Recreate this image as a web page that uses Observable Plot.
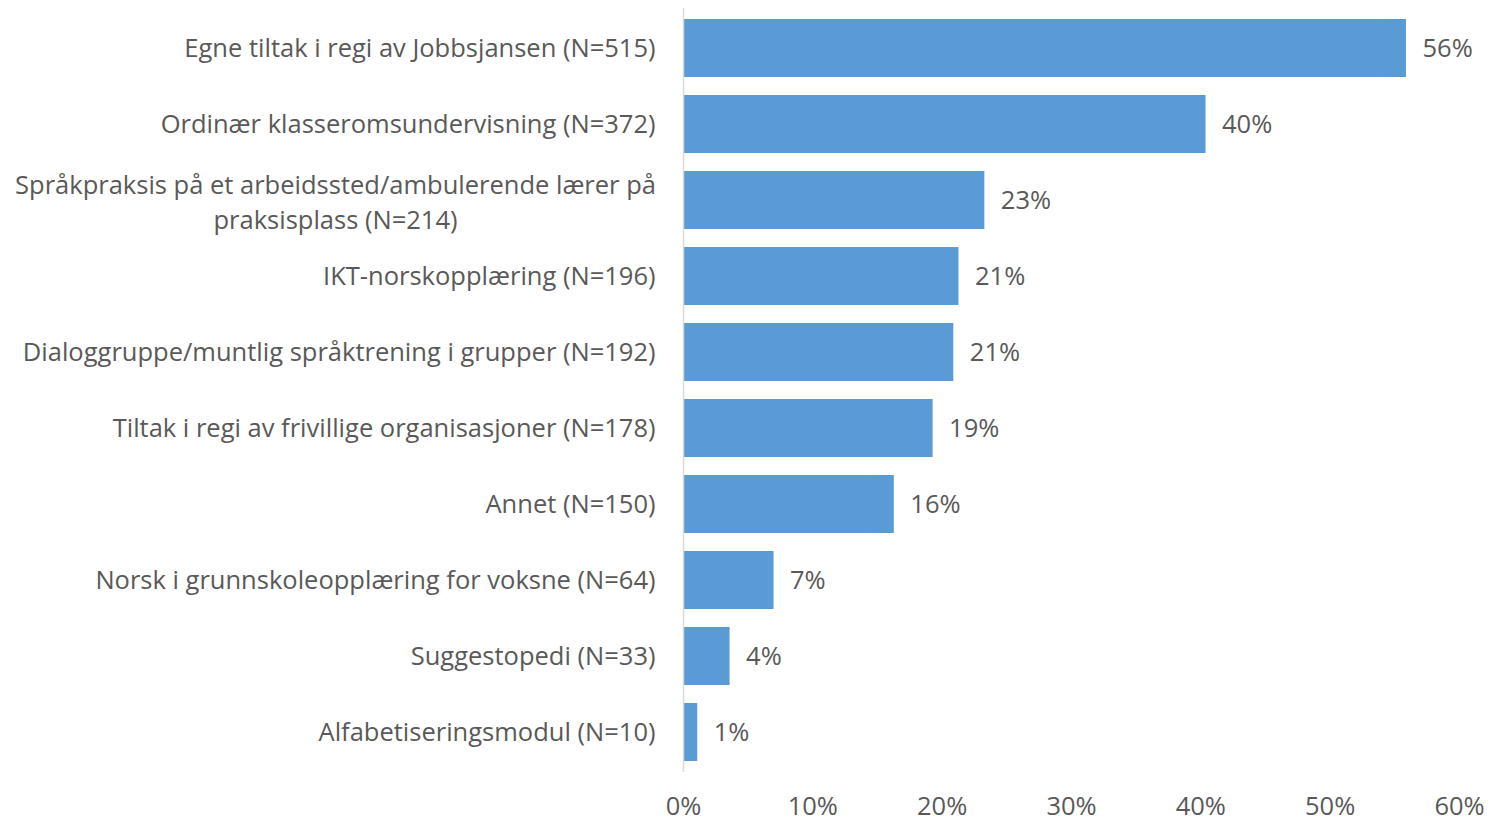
<!DOCTYPE html>
<html>
<head>
<meta charset="utf-8">
<script src="https://cdn.jsdelivr.net/npm/d3@7"></script>
<script src="https://cdn.jsdelivr.net/npm/@observablehq/plot@0.6"></script>
<style>
  html, body { margin: 0; padding: 0; background: #fff; }
  #chart svg { display: block; }
</style>
</head>
<body>
<div id="chart"></div>
<script>
const categories = [
  "Egne tiltak i regi av Jobbsjansen (N=515)",
  "Ordinær klasseromsundervisning (N=372)",
  "Språkpraksis på et arbeidssted/ambulerende lærer på\npraksisplass (N=214)",
  "IKT-norskopplæring (N=196)",
  "Dialoggruppe/muntlig språktrening i grupper (N=192)",
  "Tiltak i regi av frivillige organisasjoner (N=178)",
  "Annet (N=150)",
  "Norsk i grunnskoleopplæring for voksne (N=64)",
  "Suggestopedi (N=33)",
  "Alfabetiseringsmodul (N=10)"
];
const values = [55.9, 40.4, 23.3, 21.3, 20.9, 19.3, 16.3, 7.0, 3.6, 1.1];
const valueLabels = ["56%", "40%", "23%", "21%", "21%", "19%", "16%", "7%", "4%", "1%"];
const xTicks = [0, 10, 20, 30, 40, 50, 60];

const data = categories.map((c, i) => ({cat: c, value: values[i], label: valueLabels[i]}));

const FONT = "'Open Sans', sans-serif";
const FS = 25.5;
const TXT = "#595959";

const chart = Plot.plot({
  width: 1492,
  height: 821,
  marginLeft: 683,
  marginRight: 33,
  marginTop: 8,
  marginBottom: 49,
  style: {fontFamily: FONT, fontSize: FS + "px", color: TXT, background: "#fff"},
  x: {domain: [0, 60], ticks: xTicks, tickFormat: d => d + "%", label: null},
  y: {domain: categories, paddingInner: 0.24, paddingOuter: 0.11, label: null},
  marks: [
    Plot.barX(data, {x: "value", y: "cat", fill: "#5B9BD5"}),
    Plot.ruleX([0], {stroke: "#D9D9D9", strokeWidth: 1.5}),
    Plot.text(data, {x: "value", y: "cat", text: "label", textAnchor: "start", dx: 16, fill: TXT, fontSize: FS}),
    Plot.axisX({ticks: xTicks, tickFormat: d => d + "%", tickSize: 0, tickPadding: 24, fontSize: FS, fill: TXT, label: null}),
    Plot.axisY({tickSize: 0, tickPadding: 28, fontSize: FS, fill: TXT, label: null,
      tickFormat: d => d.includes("\n") ? "" : d}),
    Plot.text(data.filter(d => d.cat.includes("\n")), {x: 0, y: "cat", text: "cat", textAnchor: "middle",
      dx: -348, lineHeight: 1.37, fill: TXT, fontSize: FS})
  ]
});
document.getElementById("chart").appendChild(chart);
</script>
</body>
</html>
